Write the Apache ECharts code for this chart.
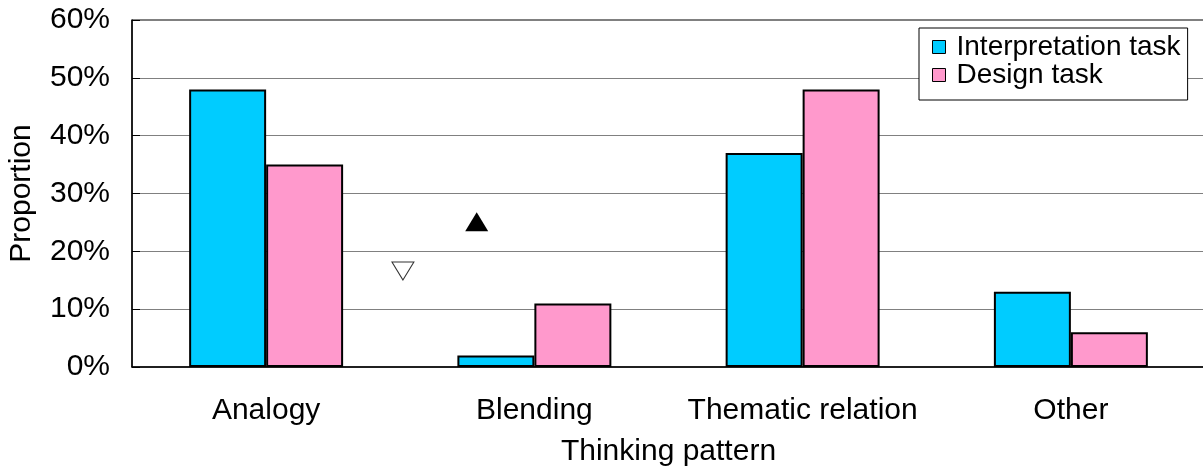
<!DOCTYPE html>
<html>
<head>
<meta charset="utf-8">
<script src="https://cdn.jsdelivr.net/npm/echarts@6/dist/echarts.min.js"></script>
<style>
html,body{margin:0;padding:0;background:#fff;}
#chart{width:1203px;height:470px;}
</style>
</head>
<body>
<div id="chart"></div>
<script>
const categories = ['Analogy', 'Blending', 'Thematic relation', 'Other'];
const interpretation = [48, 2, 37, 13];
const design = [35, 11, 48, 6];
const yTicks = [0, 10, 20, 30, 40, 50, 60];
// annotation triangles: [category position (0..4 along axis), value %]
const markerOpen = [[1.01, 16.6]];
const markerFilled = [[1.285, 25.1]];

const FONT = 'Liberation Sans';
const chart = echarts.init(document.getElementById('chart'));
chart.setOption({
  animation: false,
  backgroundColor: '#fff',
  textStyle: { fontFamily: FONT, color: '#000' },
  grid: { left: 132, top: 20, bottom: 103, right: -2, show: true, borderColor: '#000', borderWidth: 1,
    backgroundColor: 'transparent', containLabel: false, outerBoundsMode: 'none' },
  legend: {
    left: 919, top: 28, orient: 'vertical',
    data: ['Interpretation task', 'Design task'],
    icon: 'rect',
    itemWidth: 13, itemHeight: 13, itemGap: 0,
    padding: [5, 7, 11, 13],
    borderColor: '#000', borderWidth: 1, backgroundColor: '#fff',
    textStyle: { fontFamily: FONT, fontSize: 28, color: '#000', lineHeight: 27, padding: [0, 0, 0, 6] },
    itemStyle: { borderColor: '#000', borderWidth: 1 }
  },
  xAxis: [{
    type: 'category', data: categories,
    name: 'Thinking pattern', nameLocation: 'middle', nameGap: 70,
    nameTextStyle: { fontFamily: FONT, fontSize: 30, color: '#000' },
    axisLine: { lineStyle: { color: '#000', width: 1.5 } },
    axisTick: { inside: true, length: 9, lineStyle: { color: '#000' } },
    axisLabel: { interval: 0, fontFamily: FONT, fontSize: 30, color: '#000', margin: 29 },
    splitLine: { show: false }
  }, {
    type: 'value', min: 0, max: 4, show: false
  }],
  yAxis: {
    type: 'value', min: 0, max: 60, interval: 10,
    name: 'Proportion', nameLocation: 'middle', nameGap: 95,
    nameTextStyle: { fontFamily: FONT, fontSize: 30, color: '#000' },
    axisLine: { show: true, lineStyle: { color: '#000', width: 1.5 } },
    axisTick: { show: true, inside: true, length: 8, lineStyle: { color: '#000' } },
    axisLabel: { fontFamily: FONT, fontSize: 30, color: '#000', margin: 22,
      formatter: v => yTicks.includes(v) ? v + '%' : '' },
    splitLine: { show: true, lineStyle: { color: '#808080', width: 1 } }
  },
  series: [{
    name: 'Interpretation task', type: 'bar', data: interpretation,
    barWidth: '28.7%', barGap: '0%',
    itemStyle: { color: '#00CCFF', borderColor: '#000', borderWidth: 2 }
  }, {
    name: 'Design task', type: 'bar', data: design,
    barWidth: '28.7%', barGap: '0%',
    itemStyle: { color: '#FF99CC', borderColor: '#000', borderWidth: 2 }
  }, {
    type: 'scatter', xAxisIndex: 1, data: markerOpen,
    symbol: 'triangle', symbolRotate: 180, symbolSize: [22, 18],
    itemStyle: { color: '#fff', borderColor: '#333', borderWidth: 1, opacity: 1 }, z: 5
  }, {
    type: 'scatter', xAxisIndex: 1, data: markerFilled,
    symbol: 'triangle', symbolSize: [23, 19],
    itemStyle: { color: '#000', opacity: 1 }, z: 5
  }]
});
</script>
</body>
</html>
